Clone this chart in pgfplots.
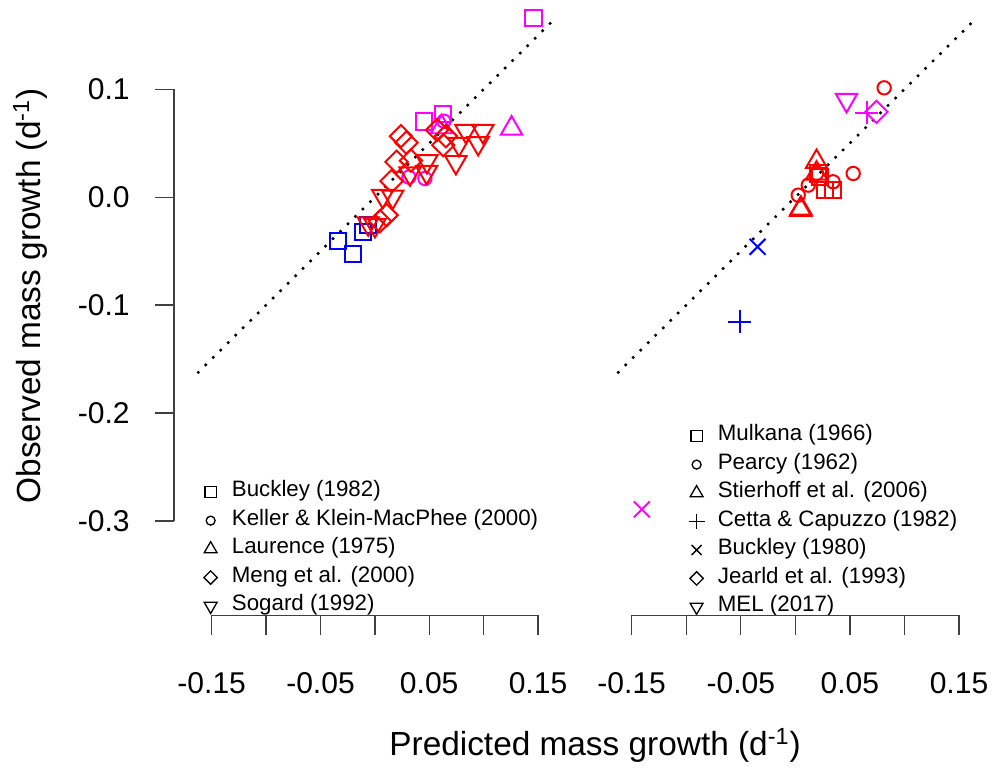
\documentclass[border=0pt]{standalone}
\usepackage{fontspec}
\setmainfont{Liberation Sans}
\usepackage{pgfplots}
\pgfplotsset{compat=1.18}

\definecolor{rred}{RGB}{255,0,0}
\definecolor{rmag}{RGB}{255,0,255}
\definecolor{rblue}{RGB}{0,0,255}

% one drawing unit = 0.02cm
\pgfplotsset{
  panel/.style={
    hide axis, clip=false, anchor=south west,
    xmin=-0.163, xmax=0.163, ymin=-0.31, ymax=0.18,
    legend image code/.code={\path[draw=none,fill=none] (-4.5pt,-3.4pt) rectangle (4.5pt,3.4pt);
      \draw[##1] plot coordinates {(0,0)};},
    legend cell align=left,
    legend style={draw=none, fill=none, inner sep=0pt, outer sep=0pt,
      anchor=north west, font=\fontsize{12.7}{14}\selectfont,
      column sep=7.6pt, row sep=6.5pt,
      nodes={inner sep=0pt, text height=0.75em, text depth=0.22em}},
  },
  pts/.style={only marks, line width=1.13pt, forget plot},
  sq/.style={mark=square, mark size=4.6pt},
  ci/.style={mark=o, mark size=3.8pt},
  tr/.style={mark=triangle, mark size=7.0pt},
  dm/.style={mark=square, mark size=4.5pt, mark options={rotate=45}},
  it/.style={mark=triangle, mark size=7.0pt, mark options={rotate=180}},
  pl/.style={mark=+, mark size=6.5pt},
  cr/.style={mark=x, mark size=6.4pt},
  lg/.style={black, line width=0.75pt},
  oneone/.style={black, line width=1.4pt, line cap=butt, dash pattern=on 1.4pt off 4.6pt, forget plot},
}

\begin{document}
\begin{tikzpicture}[x=0.02cm, y=0.02cm]

%% ---------------- left panel ----------------
\begin{axis}[panel, x=21.76cm, y=21.58cm, at={(3.9492cm,4.746cm)},
  legend style={at={(0.0150,0.0910)}}]
\addlegendimage{lg, mark=square, mark size=3.2pt}
\addlegendentry{Buckley (1982)}
\addlegendimage{lg, mark=o, mark size=2.55pt}
\addlegendentry{Keller \& Klein-MacPhee (2000)}
\addlegendimage{lg, mark=triangle, mark size=4.25pt}
\addlegendentry{Laurence (1975)}
\addlegendimage{lg, mark=square, mark size=2.7pt, mark options={rotate=45}}
\addlegendentry{Meng et al. (2000)}
\addlegendimage{lg, mark=triangle, mark size=4.25pt, mark options={rotate=180}}
\addlegendentry{Sogard (1992)}

\addplot[oneone] coordinates {(-0.163,-0.163) (0.163,0.163)};

% Buckley (1982)
\addplot[pts, sq, rblue] coordinates {
  (-0.0335,-0.0406) (-0.0198,-0.0529) (-0.0106,-0.0320) (-0.0060,-0.0258)};
\addplot[pts, sq, rmag] coordinates {
  (0.146,0.166) (0.0455,0.0703) (0.0624,0.0771)};
% Keller & Klein-MacPhee (2000)
\addplot[pts, ci, rmag] coordinates {
  (0.0636,0.0706) (0.0314,0.0187) (0.0461,0.0175)};
% Laurence (1975)
\addplot[pts, tr, rmag] coordinates {
  (0.1258,0.0639) (0.0615,0.0651)};
% Meng et al. (2000)
\addplot[pts, dm, rred] coordinates {
  (0.0241,0.0567) (0.0291,0.0507) (0.0201,0.0329) (0.0333,0.0340)
  (0.0155,0.0150) (0.0572,0.0623) (0.0654,0.0567) (0.0630,0.0484)
  (0.0109,-0.0165) (0.0048,-0.0221)};
% Sogard (1992)
\addplot[pts, it, rred] coordinates {
  (0.0838,0.0614) (0.0994,0.0614) (0.0774,0.0493) (0.0951,0.0502)
  (0.0746,0.0326) (0.0480,0.0335) (0.0477,0.0234) (0.0324,0.0221)
  (0.0073,0.0011) (0.0165,0.0005) (-0.0060,-0.0242) (0.0002,-0.0258)};
\end{axis}

%% ---------------- right panel ----------------
\begin{axis}[panel, x=21.82cm, y=21.58cm, at={(12.3494cm,4.746cm)},
  legend style={at={(0.2006,0.1970)}}]
\addlegendimage{lg, mark=square, mark size=3.2pt}
\addlegendentry{Mulkana (1966)}
\addlegendimage{lg, mark=o, mark size=2.55pt}
\addlegendentry{Pearcy (1962)}
\addlegendimage{lg, mark=triangle, mark size=4.25pt}
\addlegendentry{Stierhoff et al. (2006)}
\addlegendimage{lg, mark=+, mark size=4.5pt}
\addlegendentry{Cetta \& Capuzzo (1982)}
\addlegendimage{lg, mark=x, mark size=4pt}
\addlegendentry{Buckley (1980)}
\addlegendimage{lg, mark=square, mark size=2.7pt, mark options={rotate=45}}
\addlegendentry{Jearld et al. (1993)}
\addlegendimage{lg, mark=triangle, mark size=4.25pt, mark options={rotate=180}}
\addlegendentry{MEL (2017)}

\addplot[oneone] coordinates {(-0.163,-0.163) (0.163,0.163)};

% Mulkana (1966)
\addplot[pts, sq, rred] coordinates {
  (0.0272,0.0067) (0.0348,0.0067) (0.0211,0.0221) (0.0227,0.0190)};
% Pearcy (1962)
\addplot[pts, ci, rred] coordinates {
  (0.0816,0.1015) (0.0532,0.0221) (0.0028,0.0020) (0.0120,0.0113)
  (0.0196,0.0221) (0.0348,0.0144)};
% Stierhoff et al. (2006)
\addplot[pts, tr, rred] coordinates {
  (0.0196,0.0329) (0.0053,-0.0103) (0.0050,-0.0115) (0.0196,0.0221)};
% Cetta & Capuzzo (1982)
\addplot[pts, pl, rblue] coordinates {(-0.0507,-0.1154)};
\addplot[pts, pl, rmag] coordinates {(0.0655,0.0783)};
% Buckley (1980)
\addplot[pts, cr, rblue] coordinates {(-0.0345,-0.0459)};
\addplot[pts, cr, rmag] coordinates {(-0.1405,-0.2892)};
% Jearld et al. (1993)
\addplot[pts, dm, rmag] coordinates {(0.0746,0.0792)};
% MEL (2017)
\addplot[pts, it, rmag] coordinates {(0.0471,0.0901)};
\end{axis}

%% ---------------- axis lines, ticks and labels ----------------
\begin{scope}[line width=0.75pt, black!75]
  % y axis
  \draw (174,248) -- (174,679.7);
  \foreach \yy in {679.7,571.8,463.9,356,248} \draw (155,\yy) -- (174,\yy);
  % x axes
  \draw (211.7,153.7) -- (538,153.7);
  \foreach \k in {0,...,6} \draw ({211.7+54.38*\k},153.7) -- ({211.7+54.38*\k},134);
  \draw (631.7,153.7) -- (959,153.7);
  \foreach \k in {0,...,6} \draw ({631.7+54.55*\k},153.7) -- ({631.7+54.55*\k},134);
\end{scope}

\begin{scope}[every node/.style={inner sep=0pt, font=\fontsize{17.1}{20}\selectfont}]
  \node[anchor=east] at (130,679.7) {0.1};
  \node[anchor=east] at (130,571.8) {0.0};
  \node[anchor=east] at (130,463.9) {-0.1};
  \node[anchor=east] at (130,356) {-0.2};
  \node[anchor=east] at (130,248) {-0.3};
  \node at (211.7,86) {-0.15};
  \node at (320.5,86) {-0.05};
  \node at (429.2,86) {0.05};
  \node at (538,86) {0.15};
  \node at (631.7,86) {-0.15};
  \node at (740.8,86) {-0.05};
  \node at (849.9,86) {0.05};
  \node at (959,86) {0.15};
\end{scope}

\node[font=\fontsize{19}{22}\selectfont, inner sep=0pt] at (595,24)
  {Predicted mass growth (d\textsuperscript{-1})};
\node[font=\fontsize{19}{22}\selectfont, inner sep=0pt, rotate=90] at (30,473)
  {Observed mass growth (d\textsuperscript{-1})};

\pgfresetboundingbox
\path[use as bounding box] (0,0) rectangle (993,769);
\end{tikzpicture}
\end{document}
